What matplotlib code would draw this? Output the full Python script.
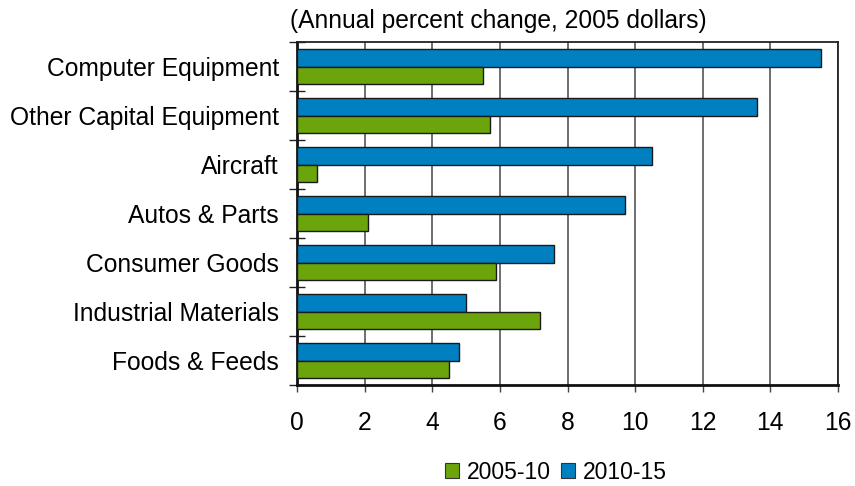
import matplotlib
matplotlib.use("Agg")
import matplotlib.pyplot as plt
import numpy as np
from matplotlib.patches import Patch

plt.rcParams['font.family'] = ['Liberation Sans', 'DejaVu Sans']

categories = ["Computer Equipment", "Other Capital Equipment", "Aircraft",
              "Autos & Parts", "Consumer Goods", "Industrial Materials",
              "Foods & Feeds"]
growth_2005_10 = [5.5, 5.7, 0.6, 2.1, 5.9, 7.2, 4.5]
growth_2010_15 = [15.5, 13.6, 10.5, 9.7, 7.6, 5.0, 4.8]
series_labels = ["2005-10", "2010-15"]
x_ticks = [0, 2, 4, 6, 8, 10, 12, 14, 16]
title_text = "(Annual percent change, 2005 dollars)"

green = "#6BA50B"
blue = "#0080C0"
fs = 17.7
legend_fs = 16.5

fig = plt.figure(figsize=(8.55, 4.86), dpi=100)
ax = fig.add_axes([297 / 855, 1 - 385 / 486, (838 - 297) / 855, (385 - 42) / 486])

y = np.arange(len(categories))
h = 0.35
ax.barh(y - h / 2, growth_2010_15, height=h, color=blue, edgecolor="#1a1a1a",
        linewidth=1.0, zorder=3)
ax.barh(y + h / 2, growth_2005_10, height=h, color=green, edgecolor="#1a1a1a",
        linewidth=1.0, zorder=3)

ax.set_xlim(0, 16)
ax.set_ylim(len(categories) - 0.5, -0.5)
ax.set_xticks(x_ticks)
ax.set_xticklabels([str(t) for t in x_ticks], fontsize=fs)
ax.tick_params(axis='x', direction='out', length=5, width=1.0, pad=14, color="#444444")

# category labels at centres, tick marks at boundaries between categories
ax.set_yticks(y)
ax.set_yticklabels(categories, fontsize=fs)
ax.tick_params(axis='y', which='major', length=0, pad=13)
ax.set_yticks(np.arange(len(categories) + 1) - 0.5, minor=True)
ax.tick_params(axis='y', which='minor', direction='inout', length=11, width=1.0,
               color="#222222")

ax.grid(axis='x', color="#555555", linewidth=1.2, zorder=0)
ax.set_axisbelow(True)
for side in ['left', 'bottom']:
    ax.spines[side].set_linewidth(2.0)
    ax.spines[side].set_color("#111111")
for side in ['top', 'right']:
    ax.spines[side].set_linewidth(1.3)
    ax.spines[side].set_color("#222222")

fig.text(290 / 855, 1 - 21 / 486, title_text, fontsize=fs, ha='left', va='center')

handles = [Patch(facecolor=green, edgecolor="#333333", linewidth=0.8),
           Patch(facecolor=blue, edgecolor="#333333", linewidth=0.8)]
fig.legend(handles, series_labels, loc='center', bbox_to_anchor=(556 / 855, 1 - 472 / 486),
           ncol=2, frameon=False, fontsize=legend_fs, handlelength=0.6, handleheight=0.6,
           handletextpad=0.35, columnspacing=0.45)

fig.savefig("out.png", dpi=100)
